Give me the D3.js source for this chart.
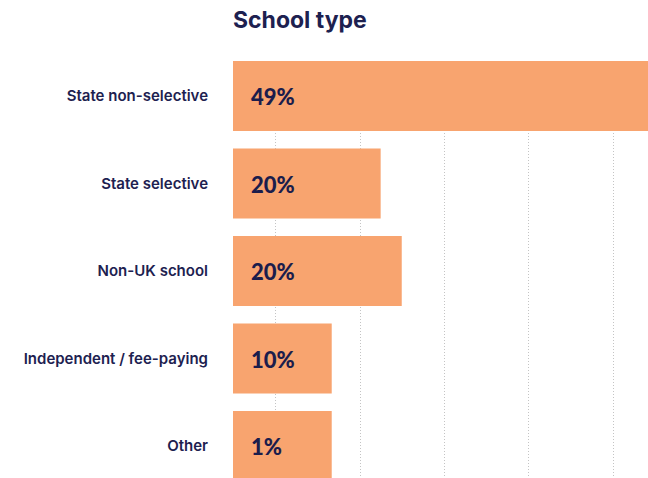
<!DOCTYPE html>
<html lang="en">
<head>
    <meta charset="UTF-8" />
    <title>School type</title>
    <script src="https://cdn.jsdelivr.net/npm/d3@7"></script>
    <style>
        body { margin: 0; background: #fff; }
        svg { display: block; }
        text.title { font-family: 'Inter', sans-serif; font-size: 23px; font-weight: 700; fill: #1d2150; }
        text.cat { font-family: 'Inter', sans-serif; font-size: 15px; font-weight: 600; fill: #1d2150; }
        text.share { font-family: 'Lato', sans-serif; font-size: 22px; font-weight: 900; fill: #1b1d4c; }
        .grid line { stroke: #c4c4c4; stroke-width: 1; stroke-dasharray: 1 2; }
        .bar { fill: #f8a46f; }
    </style>
</head>
<body>
<svg id="chart" width="648" height="478"></svg>
<script>
    // categories and values
    var categories = ['State non-selective', 'State selective', 'Non-UK school', 'Independent / fee-paying', 'Other'];
    var shareLabels = [49, 20, 20, 10, 1];           // printed percentages
    var barValues = [49.2, 17.5, 20, 11.7, 11.7];     // bar lengths as drawn
    var gridTicks = [5, 15, 25, 35, 45];

    const width = 648, height = 478;
    const left = 233;

    const svg = d3.select('#chart');

    const xScale = d3.scaleLinear()
      .domain([0, 50])
      .range([left, left + 50 * 8.437]);

    const yScale = d3.scaleBand()
      .domain(categories)
      .range([61, 481])
      .paddingInner(0.2)
      .paddingOuter(0);

    // dotted vertical grid
    svg.append('g')
      .attr('class', 'grid')
      .selectAll('line')
      .data(gridTicks)
      .enter()
      .append('line')
      .attr('x1', d => Math.round(xScale(d)) + 0.5)
      .attr('x2', d => Math.round(xScale(d)) + 0.5)
      .attr('y1', 61)
      .attr('y2', height);

    const rows = svg.selectAll('.row')
      .data(categories)
      .enter()
      .append('g')
      .attr('class', 'row');

    rows.append('rect')
      .attr('class', 'bar')
      .attr('x', xScale(0))
      .attr('y', d => yScale(d))
      .attr('width', (d, i) => xScale(barValues[i]) - xScale(0))
      .attr('height', yScale.bandwidth());

    rows.append('text') // category labels
      .attr('class', 'cat')
      .attr('x', 208)
      .attr('y', d => yScale(d) + yScale.bandwidth() / 2 + 5)
      .attr('text-anchor', 'end')
      .text(d => d);

    rows.append('text') // percent labels in bars
      .attr('class', 'share')
      .attr('x', 251)
      .attr('y', d => yScale(d) + yScale.bandwidth() / 2 + 9)
      .text((d, i) => shareLabels[i] + '%');

    svg.append('text')
      .attr('class', 'title')
      .attr('x', 233)
      .attr('y', 28)
      .text('School type');
</script>
</body>
</html>
